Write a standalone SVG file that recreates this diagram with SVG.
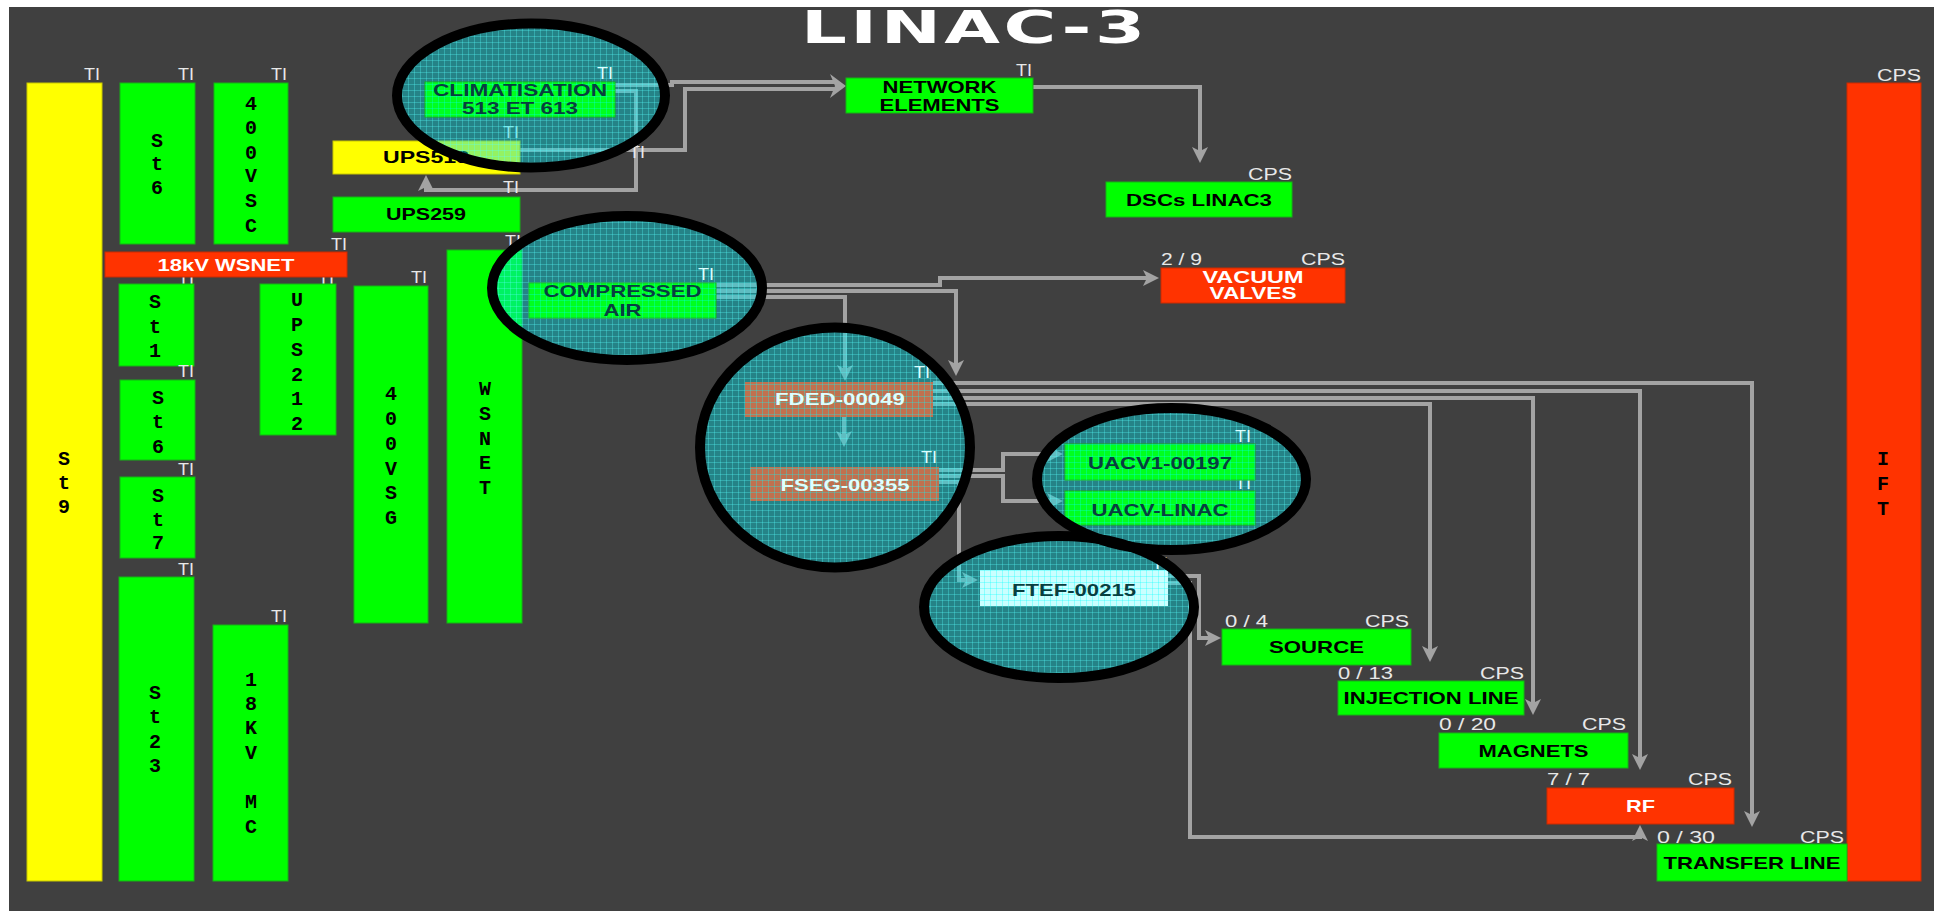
<svg xmlns="http://www.w3.org/2000/svg" width="1934" height="911" viewBox="0 0 1934 911">
  <style>
    .g{fill:#00ff00;stroke:#14b414;stroke-width:1}
    .y{fill:#ffff00;stroke:#c8c800;stroke-width:1}
    .r{fill:#ff3300;stroke:#cc2a00;stroke-width:1}
    .lb{font-family:"Liberation Sans",Arial,sans-serif;font-weight:bold;font-size:17px;fill:#000;text-anchor:middle}
    .lw{fill:#ffffff}
    .vt{font-family:"Liberation Mono","Courier New",monospace;font-weight:bold;font-size:20px;fill:#000;text-anchor:middle}
    .sm{font-family:"Liberation Sans",Arial,sans-serif;font-size:16px;fill:#e8e8e8}
    .end{text-anchor:end}
    .c{fill:none;stroke:#a3a3a3;stroke-width:4}
    .hl{fill:url(#mesh)}
    .ring{fill:none;stroke:#000;stroke-width:10}
    .fine{fill:url(#fine)}
    .dk{fill:#083e40}
    .lc{fill:#dcffff}
    .fd{fill:#dc5c36}
    .ft{fill:#e6ffff}
  </style>
  <defs>
    <marker id="ah" markerUnits="userSpaceOnUse" markerWidth="30" markerHeight="20" refX="16" refY="10" orient="auto" overflow="visible">
      <path d="M26,10 L10,2 L14,10 L10,18 Z" fill="#a3a3a3"/>
    </marker>
    <pattern id="mesh" width="6" height="6" patternUnits="userSpaceOnUse">
      <rect width="6" height="6" fill="#00e0ea" fill-opacity="0.42"/>
      <path d="M0,0.5H6M0.5,0V6" stroke="#55ffff" stroke-opacity="0.3" stroke-width="1"/>
    </pattern>
    <pattern id="fine" width="6" height="6" patternUnits="userSpaceOnUse">
      <rect width="6" height="6" fill="#00ffff" fill-opacity="0.12"/>
      <path d="M0,0.5H6M0.5,0V6" stroke="#00ffff" stroke-opacity="0.3" stroke-width="1"/>
    </pattern>
  </defs>

  <!-- page -->
  <rect width="1934" height="911" fill="#ffffff"/>
  <rect x="9" y="7" width="1925" height="904" fill="#404040"/>

  <text id="title" transform="translate(801,43) scale(1.6,1)" font-family="DejaVu Sans,sans-serif" font-weight="bold" font-size="45" fill="#ffffff" textLength="215" lengthAdjust="spacing">LINAC-3</text>

  <!-- connectors -->
  <g id="connectors" class="c">
    <path d="M615,85H672V82H836"/>
    <path d="M520,150H685V89H836"/>
    <polygon points="846,86 830,74 835,86 830,98" fill="#a3a3a3" stroke="none"/>
    <path d="M615,91H636V190H426V185" marker-end="url(#ah)"/>
    <path d="M1033,87H1200V153" marker-end="url(#ah)"/>
    <path d="M716,285H940V278H1149" marker-end="url(#ah)"/>
    <path d="M716,291H956V366" marker-end="url(#ah)"/>
    <path d="M716,297H845V371" marker-end="url(#ah)"/>
    <path d="M844,417V437" marker-end="url(#ah)"/>
    <path d="M933,383H1752V817" marker-end="url(#ah)"/>
    <path d="M933,391H1640V760" marker-end="url(#ah)"/>
    <path d="M933,398H1533V705" marker-end="url(#ah)"/>
    <path d="M933,404H1430V652" marker-end="url(#ah)"/>
    <path d="M939,470H1003V454H1053" marker-end="url(#ah)"/>
    <path d="M939,476H1003V501H1053" marker-end="url(#ah)"/>
    <path d="M939,482H959V580H968" marker-end="url(#ah)"/>
    <path d="M1168,576H1199V638H1211" marker-end="url(#ah)"/>
    <path d="M1168,583H1190V837H1640V835" marker-end="url(#ah)"/>
  </g>

  <!-- stray tag on the climatisation feeder -->
  <text class="sm end" x="645" y="158" textLength="16" lengthAdjust="spacingAndGlyphs">TI</text>

  <!-- left-hand supply columns -->
  <g id="st9">
    <rect class="y" x="27" y="83" width="75" height="798"/>
    <text class="sm end" x="100" y="80" textLength="16" lengthAdjust="spacingAndGlyphs">TI</text>
    <text class="vt"><tspan x="64" y="465">S</tspan><tspan x="64" y="489">t</tspan><tspan x="64" y="513">9</tspan></text>
  </g>
  <g id="st6-top">
    <rect class="g" x="120" y="83" width="75" height="161"/>
    <text class="sm end" x="194" y="80" textLength="16" lengthAdjust="spacingAndGlyphs">TI</text>
    <text class="vt"><tspan x="157" y="147">S</tspan><tspan x="157" y="170">t</tspan><tspan x="157" y="194">6</tspan></text>
  </g>
  <g id="v400sc">
    <rect class="g" x="214" y="83" width="74" height="161"/>
    <text class="sm end" x="287" y="80" textLength="16" lengthAdjust="spacingAndGlyphs">TI</text>
    <text class="vt"><tspan x="251" y="110">4</tspan><tspan x="251" y="134">0</tspan><tspan x="251" y="159">0</tspan><tspan x="251" y="182">V</tspan><tspan x="251" y="207">S</tspan><tspan x="251" y="232">C</tspan></text>
  </g>
  <g id="st1">
    <text class="sm end" x="194" y="286" textLength="16" lengthAdjust="spacingAndGlyphs">TI</text>
    <rect class="g" x="119" y="284" width="75" height="82"/>
    <text class="vt"><tspan x="155" y="308">S</tspan><tspan x="155" y="333">t</tspan><tspan x="155" y="357">1</tspan></text>
  </g>
  <g id="ups212">
    <text class="sm end" x="334" y="286" textLength="16" lengthAdjust="spacingAndGlyphs">TI</text>
    <rect class="g" x="260" y="284" width="76" height="151"/>
    <text class="vt"><tspan x="297" y="306">U</tspan><tspan x="297" y="331">P</tspan><tspan x="297" y="356">S</tspan><tspan x="297" y="381">2</tspan><tspan x="297" y="405">1</tspan><tspan x="297" y="430">2</tspan></text>
  </g>
  <g id="wsnet-18kv">
    <rect class="r" x="105" y="252" width="242" height="25"/>
    <text class="sm end" x="347" y="250" textLength="16" lengthAdjust="spacingAndGlyphs">TI</text>
    <text class="lb lw" x="226" y="271" textLength="137" lengthAdjust="spacingAndGlyphs">18kV WSNET</text>
  </g>
  <g id="st6-low">
    <rect class="g" x="120" y="380" width="75" height="80"/>
    <text class="sm end" x="194" y="377" textLength="16" lengthAdjust="spacingAndGlyphs">TI</text>
    <text class="vt"><tspan x="158" y="404">S</tspan><tspan x="158" y="428">t</tspan><tspan x="158" y="453">6</tspan></text>
  </g>
  <g id="st7">
    <rect class="g" x="120" y="477" width="75" height="81"/>
    <text class="sm end" x="194" y="475" textLength="16" lengthAdjust="spacingAndGlyphs">TI</text>
    <text class="vt"><tspan x="158" y="502">S</tspan><tspan x="158" y="526">t</tspan><tspan x="158" y="549">7</tspan></text>
  </g>
  <g id="st23">
    <rect class="g" x="119" y="577" width="75" height="304"/>
    <text class="sm end" x="194" y="575" textLength="16" lengthAdjust="spacingAndGlyphs">TI</text>
    <text class="vt"><tspan x="155" y="699">S</tspan><tspan x="155" y="723">t</tspan><tspan x="155" y="748">2</tspan><tspan x="155" y="772">3</tspan></text>
  </g>
  <g id="mc-18kv">
    <rect class="g" x="213" y="625" width="75" height="256"/>
    <text class="sm end" x="287" y="622" textLength="16" lengthAdjust="spacingAndGlyphs">TI</text>
    <text class="vt"><tspan x="251" y="686">1</tspan><tspan x="251" y="710">8</tspan><tspan x="251" y="734">K</tspan><tspan x="251" y="759">V</tspan><tspan x="251" y="808">M</tspan><tspan x="251" y="833">C</tspan></text>
  </g>
  <g id="v400sg">
    <rect class="g" x="354" y="286" width="74" height="337"/>
    <text class="sm end" x="427" y="283" textLength="16" lengthAdjust="spacingAndGlyphs">TI</text>
    <text class="vt"><tspan x="391" y="400">4</tspan><tspan x="391" y="425">0</tspan><tspan x="391" y="450">0</tspan><tspan x="391" y="475">V</tspan><tspan x="391" y="499">S</tspan><tspan x="391" y="524">G</tspan></text>
  </g>
  <g id="wsnet">
    <rect class="g" x="447" y="250" width="75" height="373"/>
    <text class="sm end" x="521" y="247" textLength="16" lengthAdjust="spacingAndGlyphs">TI</text>
    <text class="vt"><tspan x="485" y="395">W</tspan><tspan x="485" y="420">S</tspan><tspan x="485" y="445">N</tspan><tspan x="485" y="469">E</tspan><tspan x="485" y="494">T</tspan></text>
  </g>
  <g id="ups513">
    <rect class="y" x="333" y="141" width="187" height="33"/>
    <text class="sm end" x="519" y="138" textLength="16" lengthAdjust="spacingAndGlyphs">TI</text>
    <text class="lb" x="426" y="163" textLength="86" lengthAdjust="spacingAndGlyphs">UPS513</text>
  </g>
  <g id="ups259">
    <rect class="g" x="333" y="197" width="187" height="35"/>
    <text class="sm end" x="519" y="193" textLength="16" lengthAdjust="spacingAndGlyphs">TI</text>
    <text class="lb" x="426" y="220" textLength="80" lengthAdjust="spacingAndGlyphs">UPS259</text>
  </g>

  <!-- services -->
  <g id="network-elements">
    <rect class="g" x="846" y="78" width="187" height="35"/>
    <text class="sm end" x="1032" y="76" textLength="16" lengthAdjust="spacingAndGlyphs">TI</text>
    <text class="lb" x="939.5" y="93" textLength="114" lengthAdjust="spacingAndGlyphs">NETWORK</text>
    <text class="lb" x="939.5" y="111" textLength="120" lengthAdjust="spacingAndGlyphs">ELEMENTS</text>
  </g>
  <g id="dscs-linac3">
    <rect class="g" x="1106" y="182" width="186" height="35"/>
    <text class="sm end" x="1292" y="180" textLength="44" lengthAdjust="spacingAndGlyphs">CPS</text>
    <text class="lb" x="1199" y="206" textLength="146" lengthAdjust="spacingAndGlyphs">DSCs LINAC3</text>
  </g>
  <g id="vacuum-valves">
    <rect class="r" x="1161" y="268" width="184" height="35"/>
    <text class="sm" x="1161" y="265" textLength="41" lengthAdjust="spacingAndGlyphs">2 / 9</text>
    <text class="sm end" x="1345" y="265" textLength="44" lengthAdjust="spacingAndGlyphs">CPS</text>
    <text class="lb lw" x="1253" y="283" textLength="101" lengthAdjust="spacingAndGlyphs">VACUUM</text>
    <text class="lb lw" x="1253" y="299" textLength="87" lengthAdjust="spacingAndGlyphs">VALVES</text>
  </g>
  <g id="ift">
    <rect class="r" x="1847" y="83" width="74" height="798"/>
    <text class="sm end" x="1921" y="81" textLength="44" lengthAdjust="spacingAndGlyphs">CPS</text>
    <text class="vt lw"><tspan x="1883" y="465">I</tspan><tspan x="1883" y="490">F</tspan><tspan x="1883" y="515">T</tspan></text>
  </g>

  <!-- beam line equipment -->
  <g id="source">
    <rect class="g" x="1222" y="629" width="189" height="36"/>
    <text class="sm" x="1225" y="627" textLength="43" lengthAdjust="spacingAndGlyphs">0 / 4</text>
    <text class="sm end" x="1409" y="627" textLength="44" lengthAdjust="spacingAndGlyphs">CPS</text>
    <text class="lb" x="1316.5" y="653" textLength="95" lengthAdjust="spacingAndGlyphs">SOURCE</text>
  </g>
  <g id="injection-line">
    <rect class="g" x="1338" y="681" width="186" height="34"/>
    <text class="sm" x="1338" y="679" textLength="55" lengthAdjust="spacingAndGlyphs">0 / 13</text>
    <text class="sm end" x="1524" y="679" textLength="44" lengthAdjust="spacingAndGlyphs">CPS</text>
    <text class="lb" x="1431" y="704" textLength="175" lengthAdjust="spacingAndGlyphs">INJECTION LINE</text>
  </g>
  <g id="magnets">
    <rect class="g" x="1439" y="733" width="189" height="35"/>
    <text class="sm" x="1439" y="730" textLength="57" lengthAdjust="spacingAndGlyphs">0 / 20</text>
    <text class="sm end" x="1626" y="730" textLength="44" lengthAdjust="spacingAndGlyphs">CPS</text>
    <text class="lb" x="1533.5" y="757" textLength="110" lengthAdjust="spacingAndGlyphs">MAGNETS</text>
  </g>
  <g id="rf">
    <rect class="r" x="1547" y="788" width="187" height="36"/>
    <text class="sm" x="1547" y="785" textLength="43" lengthAdjust="spacingAndGlyphs">7 / 7</text>
    <text class="sm end" x="1732" y="785" textLength="44" lengthAdjust="spacingAndGlyphs">CPS</text>
    <text class="lb lw" x="1640.5" y="812" textLength="29" lengthAdjust="spacingAndGlyphs">RF</text>
  </g>
  <g id="transfer-line">
    <rect class="g" x="1657" y="844" width="190" height="37"/>
    <text class="sm" x="1657" y="843" textLength="58" lengthAdjust="spacingAndGlyphs">0 / 30</text>
    <text class="sm end" x="1844" y="843" textLength="44" lengthAdjust="spacingAndGlyphs">CPS</text>
    <text class="lb" x="1752" y="869" textLength="177" lengthAdjust="spacingAndGlyphs">TRANSFER LINE</text>
  </g>

  <!-- highlighted areas: tinted fill first -->
  <g id="highlights">
    <ellipse class="hl" cx="531" cy="95.5" rx="134" ry="72"/>
    <ellipse class="hl" cx="627" cy="288" rx="135" ry="72"/>
    <ellipse class="hl" cx="835" cy="447.5" rx="135" ry="120"/>
    <ellipse class="hl" cx="1171.5" cy="479" rx="134.5" ry="71"/>
    <ellipse class="hl" cx="1059" cy="607" rx="135" ry="71"/>
  </g>

  <!-- equipment inside the highlighted areas -->
  <g id="climatisation">
    <rect class="g" x="425" y="82" width="190" height="35"/>
    <rect class="fine" x="425" y="82" width="190" height="35"/>
    <text class="sm end lc" x="613" y="79" textLength="16" lengthAdjust="spacingAndGlyphs">TI</text>
    <text class="lb dk" x="520" y="96" textLength="174" lengthAdjust="spacingAndGlyphs">CLIMATISATION</text>
    <text class="lb dk" x="520" y="114" textLength="116" lengthAdjust="spacingAndGlyphs">513 ET 613</text>
  </g>
  <g id="compressed-air">
    <rect class="g" x="529" y="283" width="187" height="35"/>
    <rect class="fine" x="529" y="283" width="187" height="35"/>
    <text class="sm end lc" x="714" y="280" textLength="16" lengthAdjust="spacingAndGlyphs">TI</text>
    <text class="lb dk" x="622.5" y="297" textLength="158" lengthAdjust="spacingAndGlyphs">COMPRESSED</text>
    <text class="lb dk" x="622.5" y="316" textLength="38" lengthAdjust="spacingAndGlyphs">AIR</text>
  </g>
  <g id="fded-00049">
    <rect class="fd" x="745" y="382" width="188" height="35"/>
    <rect class="fine" x="745" y="382" width="188" height="35"/>
    <text class="sm end lc" x="930" y="378" textLength="16" lengthAdjust="spacingAndGlyphs">TI</text>
    <text class="lb lc" x="840" y="405" textLength="130" lengthAdjust="spacingAndGlyphs">FDED-00049</text>
  </g>
  <g id="fseg-00355">
    <rect class="fd" x="750" y="467" width="189" height="34"/>
    <rect class="fine" x="750" y="467" width="189" height="34"/>
    <text class="sm end lc" x="937" y="463" textLength="16" lengthAdjust="spacingAndGlyphs">TI</text>
    <text class="lb lc" x="845" y="491" textLength="129" lengthAdjust="spacingAndGlyphs">FSEG-00355</text>
  </g>
  <g id="uacv-linac">
    <text class="sm end lc" x="1251" y="489" textLength="16" lengthAdjust="spacingAndGlyphs">TI</text>
    <rect class="g" x="1065" y="491" width="190" height="34"/>
    <rect class="fine" x="1065" y="491" width="190" height="34"/>
    <text class="lb dk" x="1160" y="516" textLength="137" lengthAdjust="spacingAndGlyphs">UACV-LINAC</text>
  </g>
  <g id="uacv1-00197">
    <rect class="g" x="1065" y="444" width="190" height="36"/>
    <rect class="fine" x="1065" y="444" width="190" height="36"/>
    <text class="sm end lc" x="1251" y="442" textLength="16" lengthAdjust="spacingAndGlyphs">TI</text>
    <text class="lb dk" x="1160" y="469" textLength="144" lengthAdjust="spacingAndGlyphs">UACV1-00197</text>
  </g>
  <g id="ftef-00215">
    <rect class="ft" x="980" y="570" width="188" height="36"/>
    <rect class="fine" x="980" y="570" width="188" height="36"/>
    <text class="sm end lc" x="1168" y="569" textLength="16" lengthAdjust="spacingAndGlyphs">TI</text>
    <text class="lb dk" x="1074" y="596" textLength="124" lengthAdjust="spacingAndGlyphs">FTEF-00215</text>
  </g>

  <!-- highlight outlines -->
  <g id="highlight-rings" class="ring">
    <ellipse cx="531" cy="95.5" rx="134" ry="72"/>
    <ellipse cx="627" cy="288" rx="135" ry="72"/>
    <ellipse cx="835" cy="447.5" rx="135" ry="120"/>
    <ellipse cx="1171.5" cy="479" rx="134.5" ry="71"/>
    <ellipse cx="1059" cy="607" rx="135" ry="71"/>
  </g>
</svg>
